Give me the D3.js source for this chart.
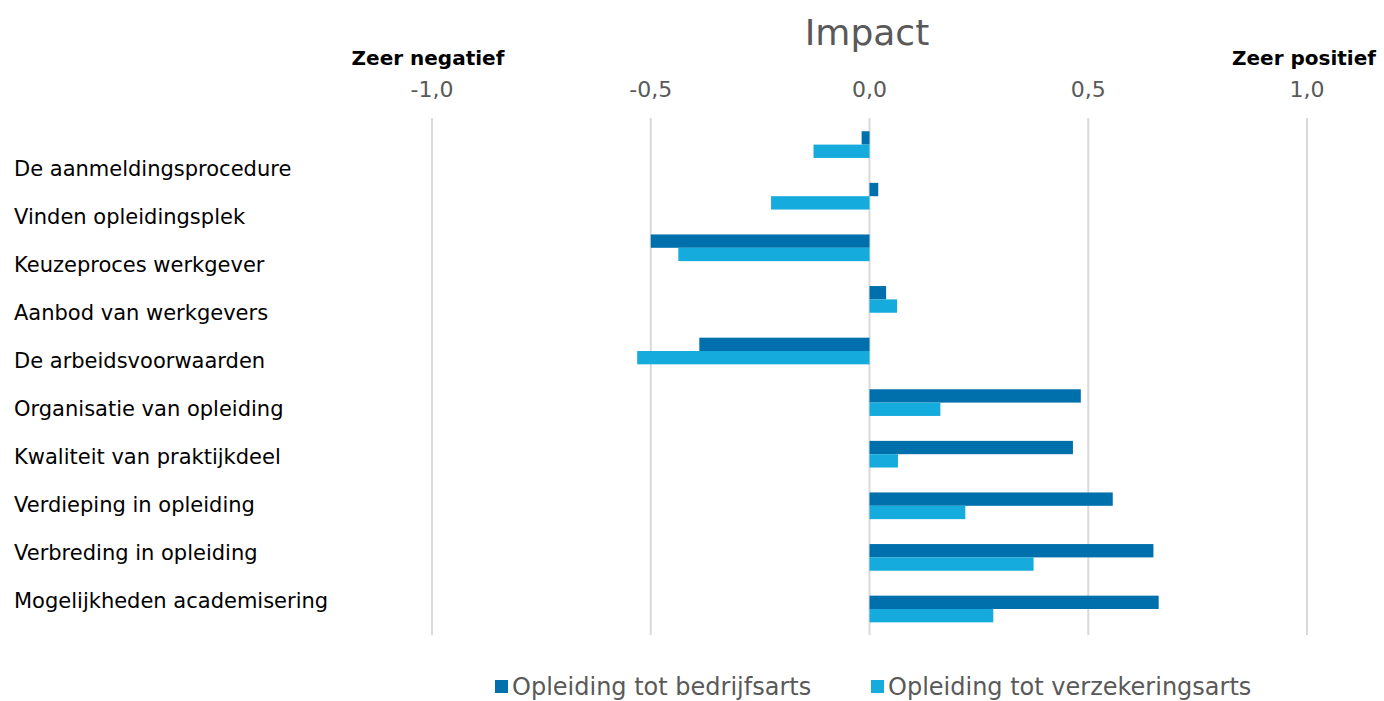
<!DOCTYPE html>
<html>
<head>
<meta charset="utf-8">
<script src="https://cdn.jsdelivr.net/npm/d3@7"></script>
<style>
  body { margin: 0; background: #fff; }
  text { font-family: "DejaVu Sans", Verdana, sans-serif; }
</style>
</head>
<body>
<svg id="chart" width="1384" height="701"></svg>
<script>
var categories = ["De aanmeldingsprocedure", "Vinden opleidingsplek", "Keuzeproces werkgever",
  "Aanbod van werkgevers", "De arbeidsvoorwaarden", "Organisatie van opleiding",
  "Kwaliteit van praktijkdeel", "Verdieping in opleiding", "Verbreding in opleiding",
  "Mogelijkheden academisering"];
var seriesNames = ["Opleiding tot bedrijfsarts", "Opleiding tot verzekeringsarts"];
var bedrijfsarts = [-0.018, 0.02, -0.50, 0.038, -0.389, 0.483, 0.465, 0.556, 0.649, 0.661];
var verzekeringsarts = [-0.128, -0.225, -0.437, 0.063, -0.531, 0.162, 0.065, 0.219, 0.375, 0.283];
var tickValues = [-1, -0.5, 0, 0.5, 1];
var colors = ["#0070ad", "#15abdc"];

var svg = d3.select("#chart");

var x = d3.scaleLinear().domain([-1, 1]).range([432, 1307]);
var y = d3.scaleBand().domain(categories).range([118.8, 634.8]).paddingInner(0.483).paddingOuter(0.2415);
var ySub = d3.scaleBand().domain([0, 1]).range([0, y.bandwidth()]);
var yLabel = d3.scaleBand().domain(categories).range([145.5, 624.5]);

// gridlines
svg.append("g").selectAll("line")
  .data(tickValues)
  .enter().append("line")
  .attr("x1", function(d) { return x(d); })
  .attr("x2", function(d) { return x(d); })
  .attr("y1", 118)
  .attr("y2", 635)
  .attr("stroke", "#d9d9d9")
  .attr("stroke-width", 2);

// top axis labels
var fmt = function(d) { return d3.format(".1f")(d).replace(".", ",").replace("−", "-"); };
svg.append("g").selectAll("text")
  .data(tickValues)
  .enter().append("text")
  .attr("x", function(d) { return x(d); })
  .attr("y", 97)
  .attr("text-anchor", "middle")
  .attr("fill", "#595959")
  .style("font-size", "22px")
  .text(fmt);

// bars
var rows = categories.map(function(c, i) { return {cat: c, vals: [bedrijfsarts[i], verzekeringsarts[i]]}; });
var g = svg.append("g").selectAll("g")
  .data(rows)
  .enter().append("g")
  .attr("transform", function(d) { return "translate(0," + y(d.cat) + ")"; });
g.selectAll("rect")
  .data(function(d) { return d.vals; })
  .enter().append("rect")
  .attr("x", function(d) { return x(Math.min(0, d)); })
  .attr("width", function(d) { return Math.abs(x(d) - x(0)); })
  .attr("y", function(d, i) { return ySub(i); })
  .attr("height", ySub.bandwidth())
  .attr("fill", function(d, i) { return colors[i]; });

// category labels
svg.append("g").selectAll("text")
  .data(categories)
  .enter().append("text")
  .attr("x", 14)
  .attr("y", function(d) { return yLabel(d) + yLabel.bandwidth() / 2 + 7; })
  .attr("fill", "#000")
  .style("font-size", "21px")
  .text(function(d) { return d; });

// title and end labels
svg.append("text")
  .attr("x", 867).attr("y", 45)
  .attr("text-anchor", "middle")
  .attr("fill", "#595959")
  .style("font-size", "36px")
  .text("Impact");
svg.append("text")
  .attr("x", 428).attr("y", 65)
  .attr("text-anchor", "middle")
  .attr("fill", "#000")
  .style("font-size", "20px").style("font-weight", "bold")
  .text("Zeer negatief");
svg.append("text")
  .attr("x", 1304).attr("y", 65)
  .attr("text-anchor", "middle")
  .attr("fill", "#000")
  .style("font-size", "20px").style("font-weight", "bold")
  .text("Zeer positief");

// legend
var legendX = [495, 871];
var legend = svg.append("g").selectAll("g")
  .data(seriesNames)
  .enter().append("g")
  .attr("transform", function(d, i) { return "translate(" + legendX[i] + ",680)"; });
legend.append("rect")
  .attr("width", 13).attr("height", 13)
  .attr("fill", function(d, i) { return colors[i]; });
legend.append("text")
  .attr("x", 17).attr("y", 15)
  .attr("fill", "#595959")
  .style("font-size", "24px")
  .text(function(d) { return d; });
</script>
</body>
</html>
